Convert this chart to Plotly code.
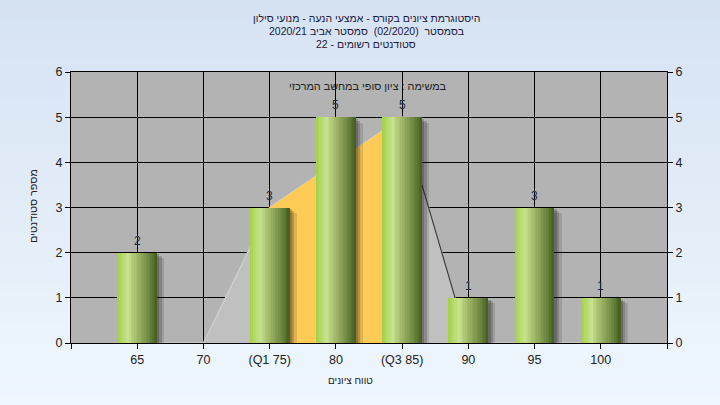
import plotly.graph_objects as go

# ---- data ----
categories = ["65", "70", "(Q1 75)", "80", "(Q3 85)", "90", "95", "100"]
counts = [2, 0, 3, 5, 5, 1, 3, 1]
curve_values = [0, 0, 3, 4, 5, 0, 0, 0]          # background distribution polygon
q_range = [2, 4]                                  # index range of Q1..Q3 (orange)
y_ticks = [0, 1, 2, 3, 4, 5, 6]
title_lines = [
    "היסטוגרמת ציונים בקורס - אמצעי הנעה - מנועי סילון",
    "בסמסטר  (02/2020)  סמסטר אביב 2020/21",
    "סטודנטים רשומים - 22",
]
subtitle = "במשימה : ציון סופי במחשב המרכזי"
x_title = "טווח ציונים"
y_title = "מספר סטודנטים"

pos = list(range(1, len(categories) + 1))
FONT = "Liberation Sans, DejaVu Sans, Arial, sans-serif"

# layout geometry (pixels)
W, H = 720, 405
ML, MR, MT, MB = 71, 53, 72, 62
PW, PH = W - ML - MR, H - MT - MB


def px_to_paper_x(px):
    return (px - ML) / PW


def px_to_paper_y(py):
    return (H - MB - py) / PH


def hex2rgb(h):
    h = h.lstrip("#")
    return tuple(int(h[i:i + 2], 16) for i in (0, 2, 4))


def lerp_color(stops, t):
    for (t0, c0), (t1, c1) in zip(stops, stops[1:]):
        if t0 <= t <= t1:
            f = 0 if t1 == t0 else (t - t0) / (t1 - t0)
            a, b = hex2rgb(c0), hex2rgb(c1)
            return "rgb(%d,%d,%d)" % tuple(round(a[i] + (b[i] - a[i]) * f) for i in range(3))
    return stops[-1][1]


fig = go.Figure()

# background distribution area (light gray) and Q1-Q3 band (orange) on main axes
fig.add_trace(go.Scatter(
    x=pos, y=curve_values, mode="lines", fill="tozeroy",
    fillcolor="#c0c0c0", line=dict(color="#cdcdcd", width=1.5),
    hoverinfo="skip", showlegend=False))
qi0, qi1 = q_range
fig.add_trace(go.Scatter(
    x=pos[qi0:qi1 + 1], y=curve_values[qi0:qi1 + 1], mode="lines", fill="tozeroy",
    fillcolor="#fecb57", line=dict(color="#fecb57", width=0),
    hoverinfo="skip", showlegend=False))
fig.add_trace(go.Scatter(
    x=pos[qi1:qi1 + 2], y=curve_values[qi1:qi1 + 2], mode="lines",
    line=dict(color="#3a3a3a", width=1.2), hoverinfo="skip", showlegend=False))

BW = 0.6
# shadows (bars on overlaying right axis so they sit above the area)
for k, (dx, dy, op) in enumerate([(0.035, 0.04, 0.24), (0.07, 0.08, 0.2), (0.11, 0.12, 0.14)]):
    fig.add_trace(go.Bar(
        x=pos, y=[max(v - dy, 0) if v > 0 else 0 for v in counts], yaxis="y2",
        width=BW, offset=-BW / 2 + dx,
        marker=dict(color="rgba(25,25,25,%.2f)" % op, line=dict(width=0)),
        hoverinfo="skip", showlegend=False))

# gradient bars (vertical slices)
stops = [(0.0, "#a2cf44"), (0.12, "#b5da6a"), (0.27, "#c7e290"), (0.4, "#afc875"),
         (0.6, "#8ea55a"), (0.8, "#6c8640"), (1.0, "#445c1c")]
N = 24
dw = BW / N
for i in range(N):
    t = (i + 0.5) / N
    fig.add_trace(go.Bar(
        x=pos, y=counts, yaxis="y2",
        width=dw * (1.6 if i < N - 1 else 1.0), offset=-BW / 2 + i * dw,
        marker=dict(color=lerp_color(stops, t), line=dict(width=0)),
        hoverinfo="skip", showlegend=False))

# background gradient strips + plot area
shapes = []
NS = 40
for k in range(NS):
    py0 = k * H / NS
    py1 = (k + 1) * H / NS + 1
    t = k / (NS - 1)
    shapes.append(dict(
        type="rect", xref="paper", yref="paper", layer="below",
        x0=px_to_paper_x(-2), x1=px_to_paper_x(W + 2),
        y0=px_to_paper_y(py1), y1=px_to_paper_y(py0),
        fillcolor=lerp_color([(0, "#d6e3f3"), (1, "#eff6fd")], t), line=dict(width=0)))
shapes.append(dict(type="rect", xref="paper", yref="paper", layer="below",
                   x0=0, x1=1, y0=0, y1=1, fillcolor="#b3b3b3", line=dict(width=0)))

annotations = []
# value labels above bars
for p, v in zip(pos, counts):
    if v > 0:
        annotations.append(dict(text=str(v), x=p, y=v, xref="x", yref="y2",
                                xanchor="center", yanchor="middle", yshift=12,
                                showarrow=False,
                                font=dict(family=FONT, size=12, color="#1e2a40")))
for j, (line, py) in enumerate(zip(title_lines, [18, 31, 44])):
    annotations.append(dict(text=line, xref="paper", yref="paper",
                            x=px_to_paper_x(366), y=px_to_paper_y(py),
                            xanchor="center", yanchor="middle", showarrow=False,
                            font=dict(family=FONT, size=10.5, color="#1a1a3a")))
annotations.append(dict(text=subtitle, xref="paper", yref="paper",
                        x=px_to_paper_x(368), y=px_to_paper_y(86),
                        xanchor="center", yanchor="middle", showarrow=False,
                        font=dict(family=FONT, size=10.8, color="#222222")))
annotations.append(dict(text=x_title, xref="paper", yref="paper",
                        x=px_to_paper_x(350), y=px_to_paper_y(380),
                        xanchor="center", yanchor="middle", showarrow=False,
                        font=dict(family=FONT, size=10, color="#222222")))
annotations.append(dict(text=y_title, xref="paper", yref="paper",
                        x=px_to_paper_x(33), y=px_to_paper_y(206),
                        xanchor="center", yanchor="middle", showarrow=False, textangle=-90,
                        font=dict(family=FONT, size=10.8, color="#222222")))

axis_common = dict(showline=True, linecolor="black", linewidth=1,
                   ticks="outside", ticklen=5, tickcolor="black",
                   tickfont=dict(family=FONT, size=12.5, color="#222222"),
                   zeroline=False)

fig.update_layout(
    width=W, height=H,
    margin=dict(l=ML, r=MR, t=MT, b=MB, pad=0),
    paper_bgcolor="#e3edf8", plot_bgcolor="#b3b3b3",
    barmode="overlay", bargap=0,
    shapes=shapes, annotations=annotations,
    xaxis=dict(range=[0, len(categories) + 1],
               tickvals=[0] + pos + [len(categories) + 1],
               ticktext=[""] + categories + [""],
               showgrid=True, gridcolor="black", gridwidth=1,
               mirror=True, **axis_common),
    yaxis=dict(range=[0, 6], tickvals=y_ticks,
               showgrid=True, gridcolor="black", gridwidth=1, **axis_common),
    yaxis2=dict(range=[0, 6], tickvals=y_ticks, overlaying="y", side="right",
                showgrid=False, **axis_common),
    font=dict(family=FONT),
)

fig.write_html("out.html", config={"displayModeBar": False},
               post_script="document.body.style.margin='0';")
